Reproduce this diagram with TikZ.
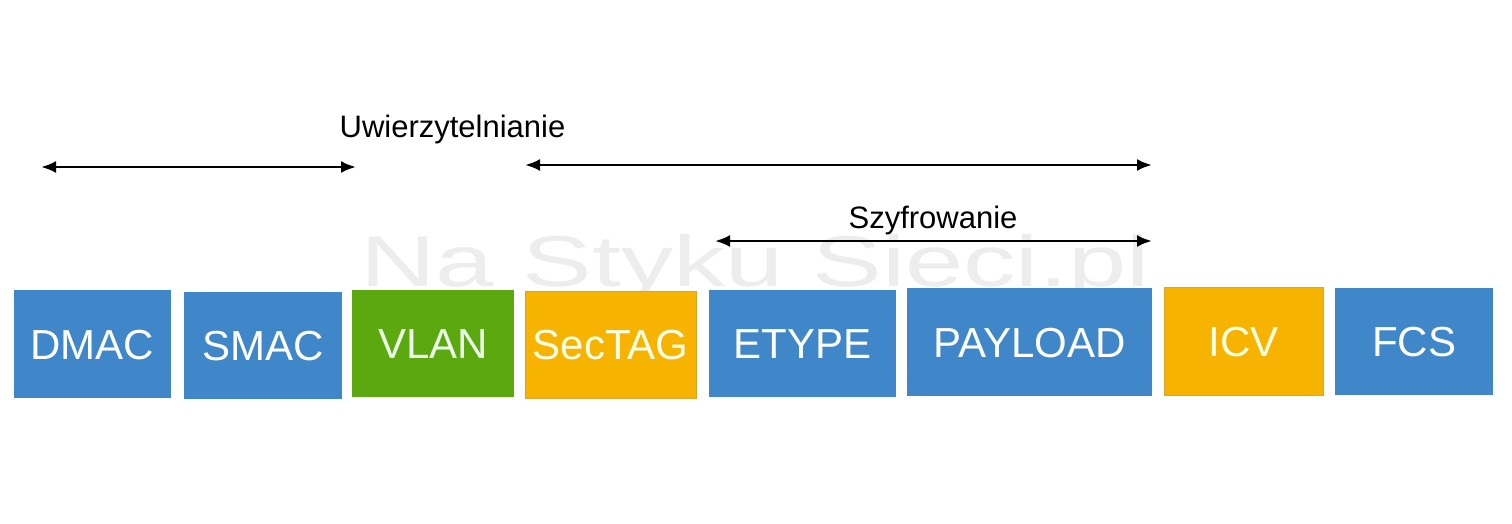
\documentclass[tikz,border=0pt]{standalone}
\usepackage{fontspec}
\setmainfont{Liberation Sans}
\usetikzlibrary{arrows.meta}
\definecolor{fblue}{HTML}{3F87C8}
\definecolor{fgreen}{HTML}{5BA80F}
\definecolor{forange}{HTML}{F6B400}
\definecolor{forangeedge}{HTML}{D8A530}
\definecolor{wmark}{HTML}{EDEDED}
\tikzset{
  field/.style={inner sep=0pt, text=white, font=\fontsize{42}{48}\selectfont,
    text height=30pt, text depth=0pt, minimum height=107pt},
  bluefield/.style={field, fill=fblue},
  greenfield/.style={field, fill=fgreen, text=white!92!green},
  orangefield/.style={field, fill=forange, draw=forangeedge, line width=0.8pt, text=white!90!yellow},
  span/.style={draw=black, line width=2.6pt, {Latex[length=15pt,width=12pt]}-{Latex[length=15pt,width=12pt]}},
  caption/.style={font=\fontsize{31}{36}\selectfont, anchor=base, inner sep=0pt}
}
\begin{document}
\begin{tikzpicture}[x=1pt,y=-1pt]
\useasboundingbox[fill=white] (0,0) rectangle (1512,524);
% watermark
\node[anchor=base west, inner sep=0pt, text=wmark, font=\fontsize{72}{80}\selectfont, xscale=1.45] (wm) at (360,286) {Na Styku Sieci.pl};
% fields
\node[bluefield, minimum width=157pt, minimum height=108pt] (dmac) at (92.5,344) {DMAC};
\node[bluefield, minimum width=158pt] (smac) at (263,345.5) {SMAC};
\node[greenfield, minimum width=162pt] (vlan) at (433,343.5) {VLAN};
\node[orangefield, minimum width=171pt] (sectag) at (610.5,344.5) {SecTAG};
\node[bluefield, minimum width=187pt] (etype) at (802.5,343.5) {ETYPE};
\node[bluefield, minimum width=245pt, minimum height=108pt] (payload) at (1029.5,342) {PAYLOAD};
\node[orangefield, minimum width=159pt, minimum height=108pt] (icv) at (1243.5,341) {ICV};
\node[bluefield, minimum width=158pt] (fcs) at (1414,341.5) {FCS};
% captions
\node[caption] (auth) at (452.5,138) {Uwierzytelnianie};
\node[caption] (enc) at (933,228) {Szyfrowanie};
% spans
\coordinate (a1s) at (41,167);
\coordinate (a1e) at (356,167);
\coordinate (a2s) at (525,165);
\coordinate (a2e) at (1152,165);
\coordinate (a3s) at (715,241);
\coordinate (a3e) at (1152,241);
\draw[span] (a1s) -- (a1e);
\draw[span] (a2s) -- (a2e);
\draw[span] (a3s) -- (a3e);
\end{tikzpicture}
\end{document}
